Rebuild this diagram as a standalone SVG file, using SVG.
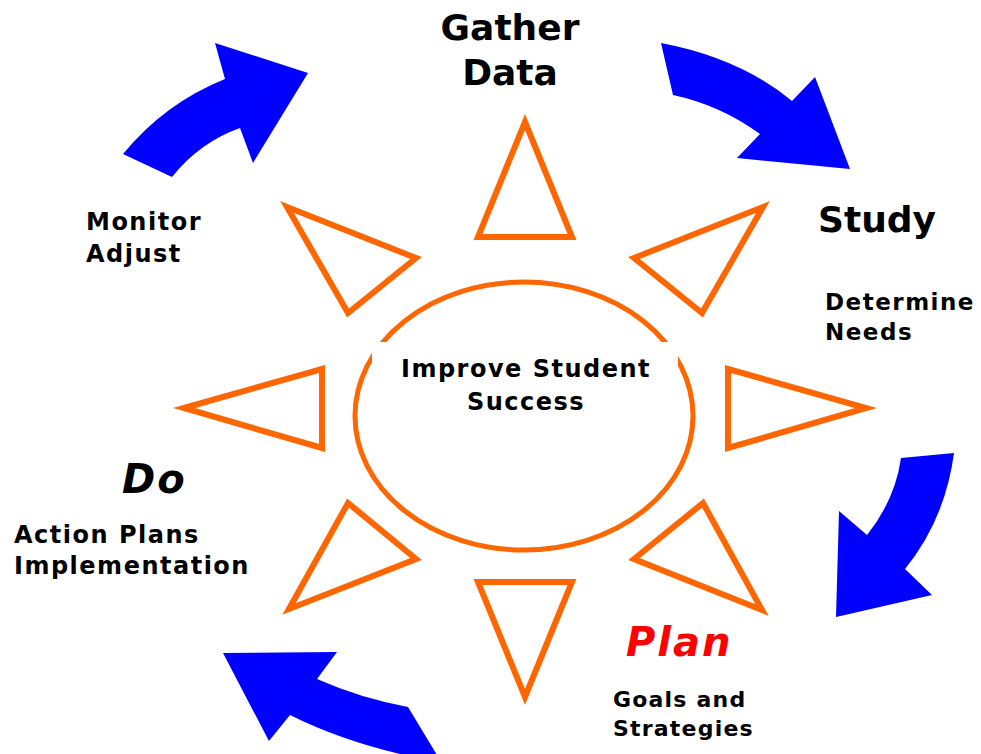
<svg xmlns="http://www.w3.org/2000/svg" width="981" height="754" viewBox="0 0 981 754">
<style>
.tri{fill:#fff;stroke:#FF6600;stroke-width:6;stroke-linejoin:miter}
.arr{fill:#0000FF;stroke:none}
.big{font-family:"DejaVu Sans","Liberation Sans",sans-serif;font-weight:bold;font-size:36px;fill:#000}
.it{font-family:"DejaVu Sans","Liberation Sans",sans-serif;font-weight:bold;font-style:italic;font-size:40px;letter-spacing:2px}
.sm{font-family:"DejaVu Sans","Liberation Sans",sans-serif;font-weight:bold;font-size:24px;letter-spacing:1.5px;fill:#000}
</style>
<rect width="981" height="754" fill="#fff"/>
<g id="center">
<ellipse cx="524" cy="416" rx="169" ry="134" fill="#fff" stroke="#FF6600" stroke-width="5"/>
<rect x="372" y="342" width="306" height="80" fill="#fff"/>
<text class="sm" x="526" y="377" text-anchor="middle">Improve Student</text>
<text class="sm" x="526" y="410" text-anchor="middle">Success</text>
</g>
<g id="rays">
<polygon class="tri" points="525,122 572,237 478,237"/>
<polygon class="tri" points="478,582 572,582 525,697"/>
<polygon class="tri" points="184,408 322,369 322,448"/>
<polygon class="tri" points="728,369 866,408 728,448"/>
<polygon class="tri" points="287,207 416,258 348,313"/>
<polygon class="tri" points="763,207 634,258 702,313"/>
<polygon class="tri" points="348,503 416,559 289,609"/>
<polygon class="tri" points="703,503 634,559 762,610"/>
</g>
<g id="connectors">
<path class="arr" d="M123,154 Q165,103 225,79 L215,43 L308,73 L253,163 L240,128 Q200,142 172,177 Z"/>
<path class="arr" d="M661,43 Q740,58 792,101 L815,77 L850,169 L737,158 L760,134 Q720,105 673,95 Z"/>
<path class="arr" d="M954,453 Q945,520 905,569 L932,595 L836,617 L839,511 L867,535 Q895,500 901,458 Z"/>
<path class="arr" d="M408,707 Q360,698 317,679 L337,652 L223,653 L269,741 L290,715 Q350,745 428,760 L440,760 Z"/>
</g>
<g id="gather">
<text class="big" x="510" y="40" text-anchor="middle">Gather</text>
<text class="big" x="510" y="85" text-anchor="middle">Data</text>
</g>
<g id="study">
<text class="big" x="818" y="232">Study</text>
<text class="sm" style="font-size:23px" x="825" y="310">Determine</text>
<text class="sm" style="font-size:23px" x="825" y="340">Needs</text>
</g>
<g id="plan">
<text class="it" x="626" y="656" fill="#FF0000">Plan</text>
<text class="sm" style="font-size:22px;letter-spacing:1.2px" x="613" y="707">Goals and</text>
<text class="sm" style="font-size:22px;letter-spacing:1.2px" x="613" y="736">Strategies</text>
</g>
<g id="do">
<text class="it" x="122" y="493" fill="#000">Do</text>
<text class="sm" x="14" y="543">Action Plans</text>
<text class="sm" x="14" y="574">Implementation</text>
</g>
<g id="monitor">
<text class="sm" x="86" y="230">Monitor</text>
<text class="sm" x="86" y="262">Adjust</text>
</g>
</svg>
